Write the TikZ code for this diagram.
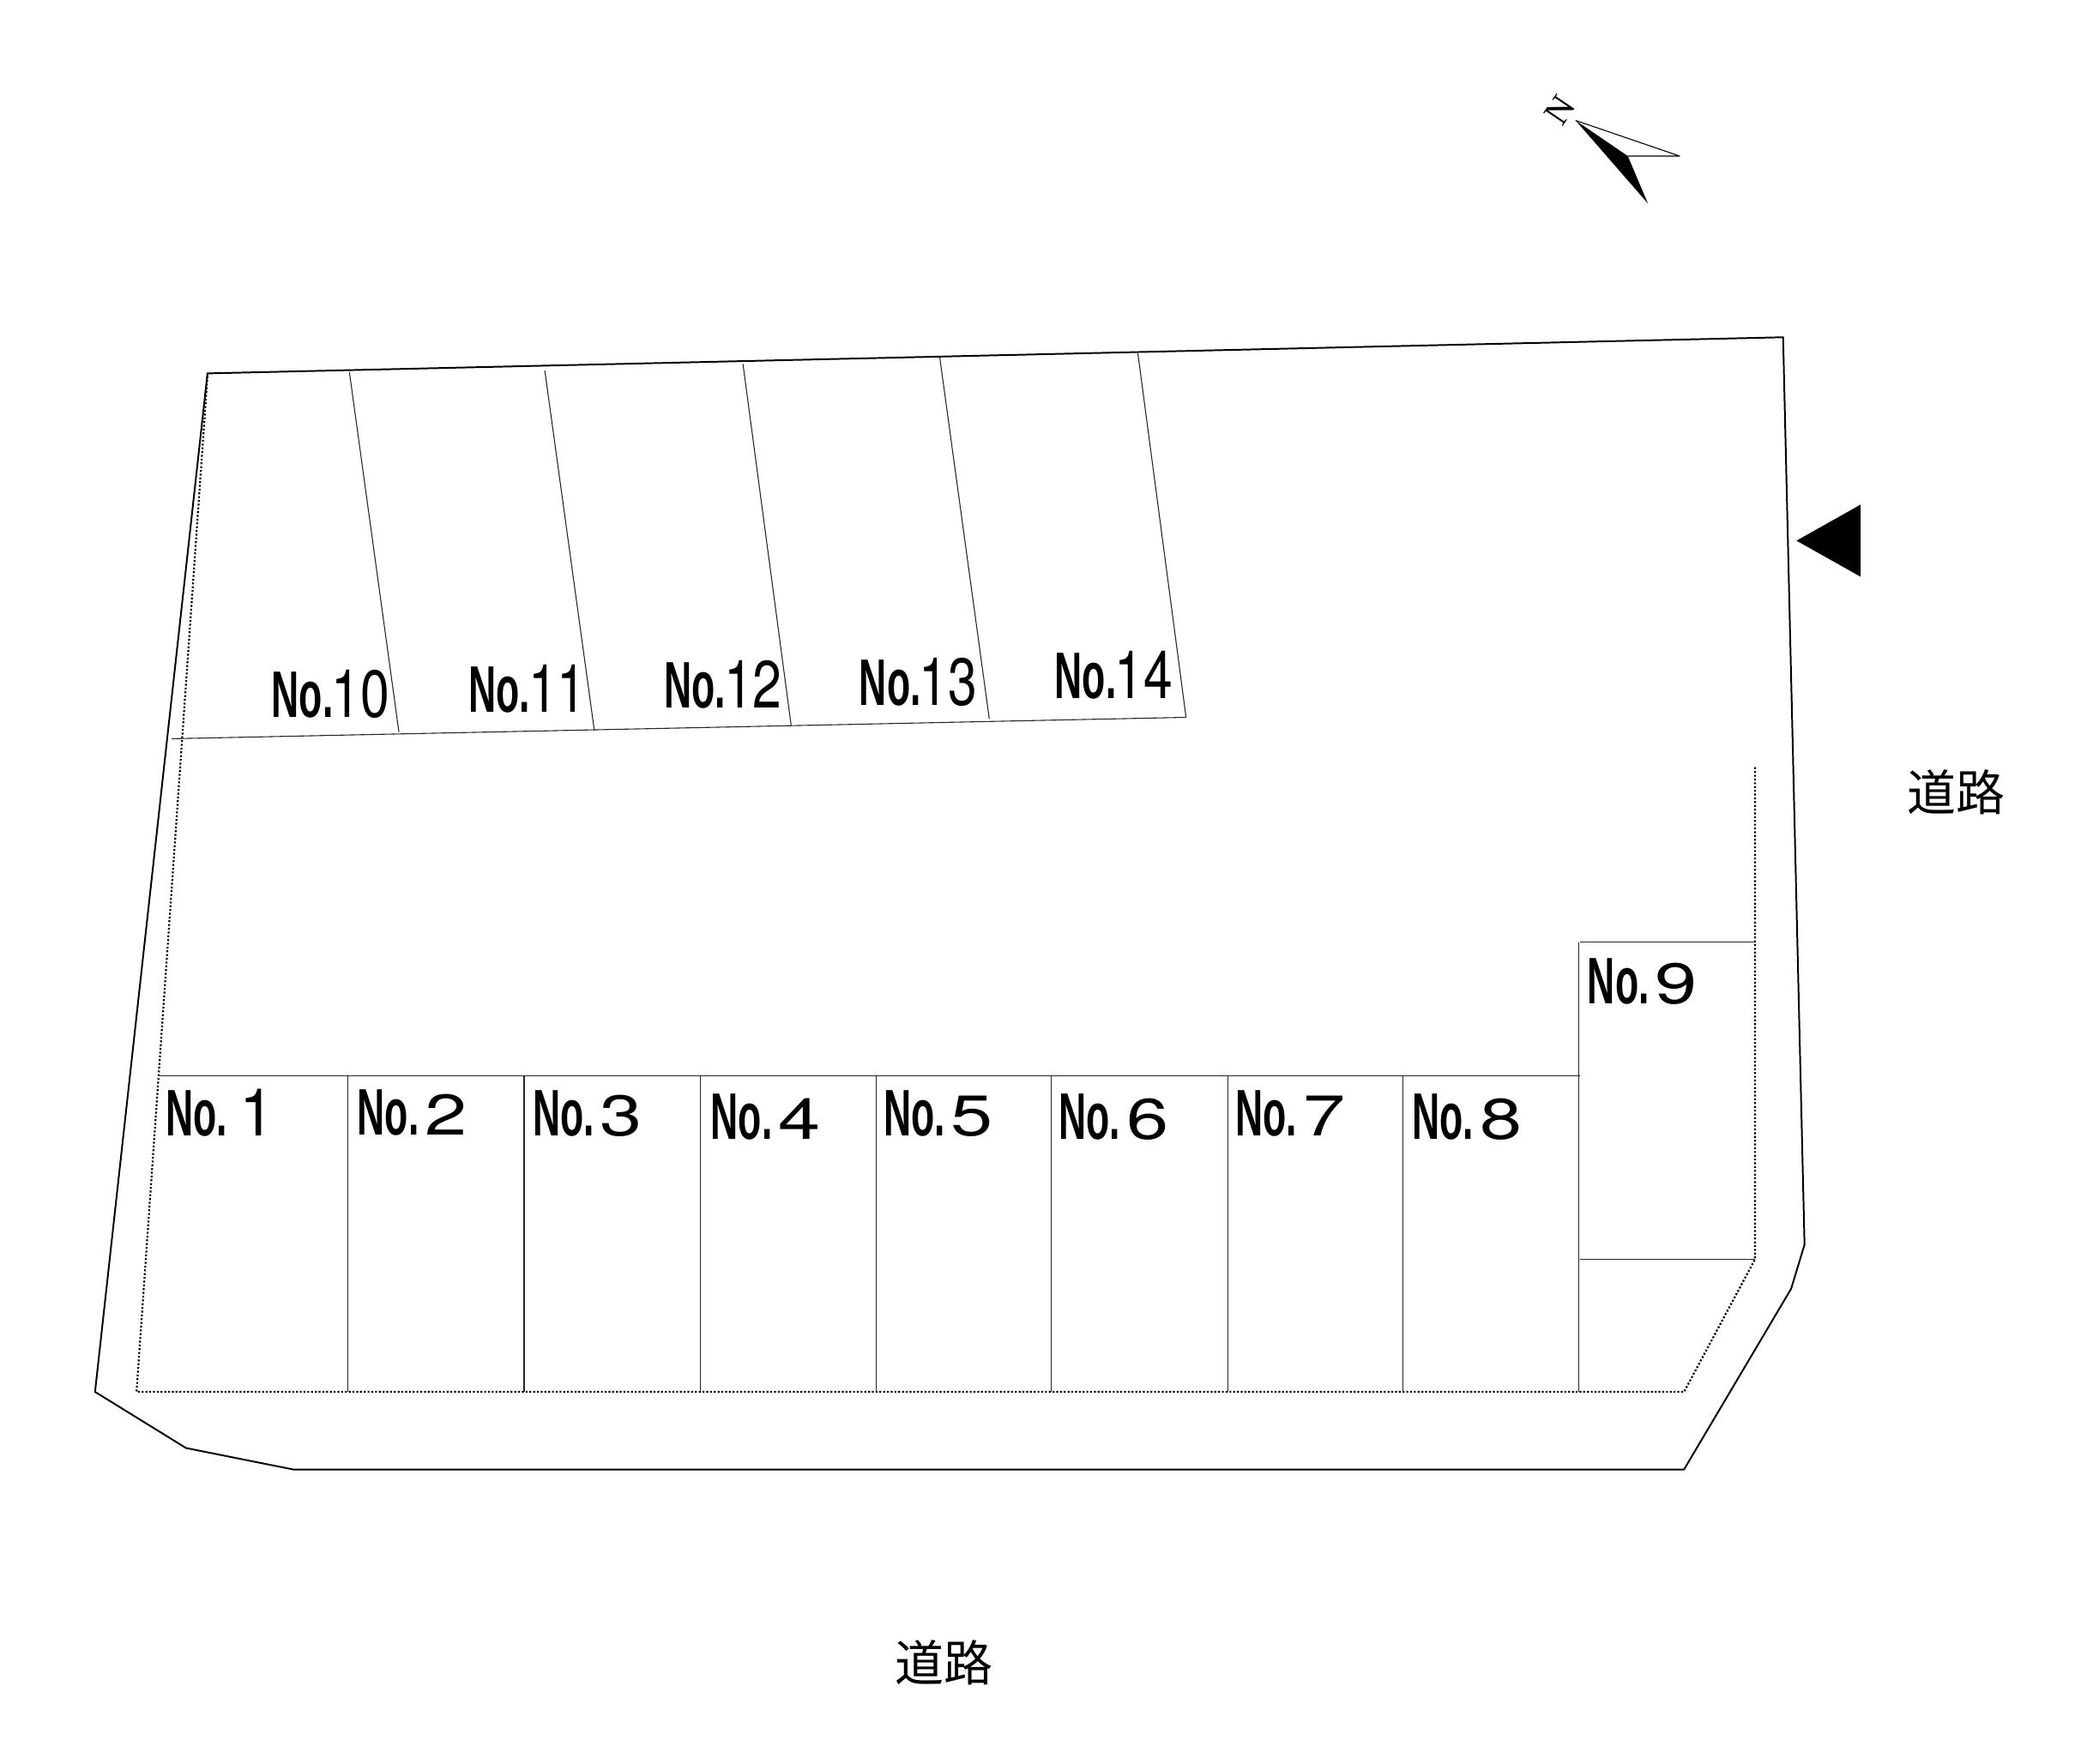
\documentclass[tikz,border=0pt]{standalone}
\usepackage{graphicx}
\usepackage{fontspec}
\setmainfont{Liberation Sans}
\newfontfamily\cjkfont{Noto Sans CJK JP}
\newfontfamily\nserif{Liberation Serif}
\newfontfamily\digitfont{TeX Gyre Heros}
\newcommand{\noprefix}{\scalebox{.58}[1]{\fontsize{70}{70}\selectfont\bfseries No.}}
\newcommand{\widelot}[1]{\noprefix\makebox[50pt][r]{\scalebox{1.32}[1]{\digitfont\fontsize{61}{61}\selectfont #1}\hspace*{-1pt}}}
\newcommand{\tallone}[1]{\noprefix\makebox[50pt][r]{\scalebox{.95}[1]{\digitfont\fontsize{70}{70}\selectfont #1}}}
\newcommand{\narrowlot}[1]{\noprefix\makebox[60pt][r]{\scalebox{.78}[1]{\digitfont\fontsize{71}{71}\selectfont #1}}}
\tikzset{
  x=0.05cm,y=-0.05cm,
  boundary/.style={draw=black,line width=1.8pt,line join=miter},
  lotline/.style={draw=black!85,line width=1pt},
  setback/.style={draw=black,line width=2pt,dash pattern=on 2pt off 2pt},
  lotlabel/.style={anchor=base west,inner sep=0pt,outer sep=0pt},
  roadlabel/.style={inner sep=0pt,font=\cjkfont\fontsize{52}{52}\selectfont},
}
\begin{document}
\begin{tikzpicture}
\useasboundingbox (0,0) rectangle (1568,1318);
% outer boundary
\draw[boundary] (155,279) -- (1332,252) -- (1348,930) -- (1338,963) -- (1258,1098) -- (219,1098) -- (139,1082) -- (71,1040) -- cycle;
% setback
\draw[setback] (155,281) -- (102,1040) -- (1258,1040) -- (1311,941) -- (1311,573);
% south row
\draw[lotline] (118,804) -- (1180,804);
\foreach \x in {260,391.5,523,654.5,785.5,917,1048,1179.5}{\draw[lotline] (\x,804) -- (\x,1040);}
\draw[lotline] (1180,704) -- (1311,704);
\draw[lotline] (1179.5,704) -- (1179.5,804);
\draw[lotline] (1180,941) -- (1311,941);
% north row
\draw[lotline] (128,552) -- (886,536);
\draw[lotline] (261,278) -- (298,547);
\draw[lotline] (407,277) -- (444,546);
\draw[lotline] (555,272) -- (591,542);
\draw[lotline] (702,267) -- (739,537);
\draw[lotline] (850,264) -- (886,536);
% entrance mark
\fill[black] (1342,404) -- (1390,377) -- (1390,431) -- cycle;
% north arrow
\draw[black,line width=1pt,line join=round] (1177,90) -- (1254.7,116.6) -- (1216,116.6);
\fill[black] (1177,90) -- (1216,116.6) -- (1231,152) -- cycle;
\node[inner sep=0pt,rotate=56,font=\nserif\fontsize{38}{38}\selectfont] (north) at (1165.5,82) {N};
% labels
\node[lotlabel] (l1) at (124,849) {\tallone{1}};
\node[lotlabel] (l2) at (267,848) {\widelot{2}};
\node[lotlabel] (l3) at (398,849) {\widelot{3}};
\node[lotlabel] (l4) at (531,851) {\widelot{4}};
\node[lotlabel] (l5) at (660,849) {\widelot{5}};
\node[lotlabel] (l6) at (791,851) {\widelot{6}};
\node[lotlabel] (l7) at (923,849) {\widelot{7}};
\node[lotlabel] (l8) at (1055,851) {\widelot{8}};
\node[lotlabel] (l9) at (1186,750) {\widelot{9}};
\node[lotlabel] (l10) at (203,536) {\narrowlot{10}};
\node[lotlabel] (l11) at (350,532) {\narrowlot{11}};
\node[lotlabel] (l12) at (496,529) {\narrowlot{12}};
\node[lotlabel] (l13) at (642,527) {\narrowlot{13}};
\node[lotlabel] (l14) at (788,522) {\narrowlot{14}};
\node[roadlabel] (r1) at (1461,592) {道路};
\node[roadlabel] (r2) at (705,1242) {道路};
\end{tikzpicture}
\end{document}
